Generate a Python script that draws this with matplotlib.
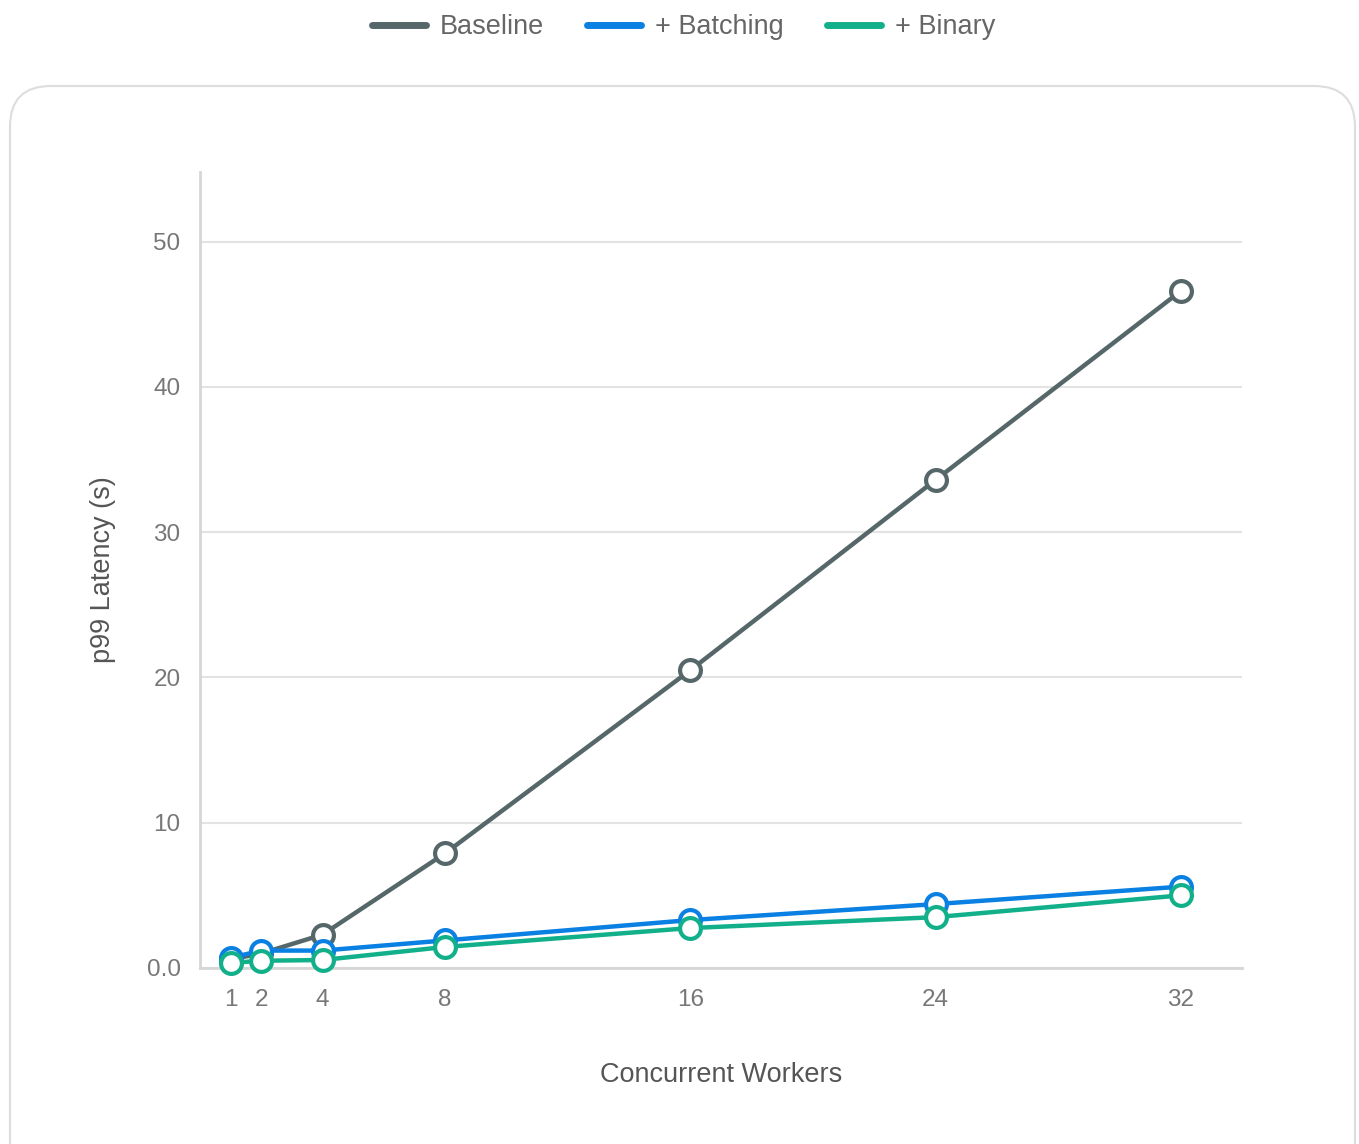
import matplotlib
matplotlib.use('Agg')
import matplotlib.pyplot as plt
from matplotlib.patches import FancyBboxPatch

plt.rcParams['font.family'] = ['Liberation Sans', 'DejaVu Sans']

# Data.
workers = [1, 2, 4, 8, 16, 24, 32]
baseline = [0.6, 1.0, 2.3, 7.9, 20.5, 33.6, 46.6]
batching = [0.7, 1.2, 1.2, 1.9, 3.3, 4.4, 5.6]
binary = [0.35, 0.5, 0.55, 1.45, 2.75, 3.5, 5.0]

series_names = ['Baseline', '+ Batching', '+ Binary']
series_colors = ['#56676a', '#0a80e2', '#12b08a']

fig = plt.figure(figsize=(13.59, 11.44), dpi=100)

# Card background with rounded corners.
card = FancyBboxPatch((10 / 1359, -0.05), 1345 / 1359, (1144 - 86) / 1144 + 0.05,
                      boxstyle='round,pad=0,rounding_size=0.03',
                      transform=fig.transFigure, facecolor='white',
                      edgecolor='#dddddd', linewidth=1.5, mutation_aspect=1359 / 1144,
                      zorder=-1)
fig.patches.append(card)

ax = fig.add_axes([200 / 1359, 1 - 968 / 1144, 1042 / 1359, (968 - 172) / 1144])
ax.set_facecolor('none')
ax.set_zorder(2)

for ii, (vals, name, col) in enumerate(zip([baseline, batching, binary], series_names, series_colors)):
    ax.plot(workers, vals, color=col, lw=3.2, marker='o', markersize=15,
            markerfacecolor='white', markeredgecolor=col, markeredgewidth=3,
            label=name, zorder=3 + ii, clip_on=False)

ax.set_xlim(0, 34)
ax.set_ylim(0, 54.8)
ax.set_xticks(workers)
ax.set_yticks([0, 10, 20, 30, 40, 50])
ax.set_yticklabels(['0.0', '10', '20', '30', '40', '50'])
ax.grid(axis='y', color='#e3e3e3', lw=1.5)
ax.set_axisbelow(True)
ax.tick_params(length=0, labelsize=17.5, colors='#777777')
ax.tick_params(axis='y', pad=14)
ax.tick_params(axis='x', pad=15)
for s in ['top', 'right']:
    ax.spines[s].set_visible(False)
for s in ['left', 'bottom']:
    ax.spines[s].set_color('#d6d6d6')
    ax.spines[s].set_linewidth(2)

ax.set_xlabel('Concurrent Workers', fontsize=19.5, color='#555555', labelpad=37)
ax.set_ylabel('p99 Latency (s)', fontsize=19.5, color='#555555', labelpad=22)

handles = [plt.Line2D([], [], color=c, lw=5, solid_capstyle='round') for c in series_colors]
fig.legend(handles, series_names, loc='center', bbox_to_anchor=(0.503, 1 - 27 / 1144),
           ncol=3, frameon=False, fontsize=19.5, handlelength=2.0, columnspacing=1.6,
           handletextpad=0.5, labelcolor='#666666')

fig.savefig('out.png', dpi=100)
